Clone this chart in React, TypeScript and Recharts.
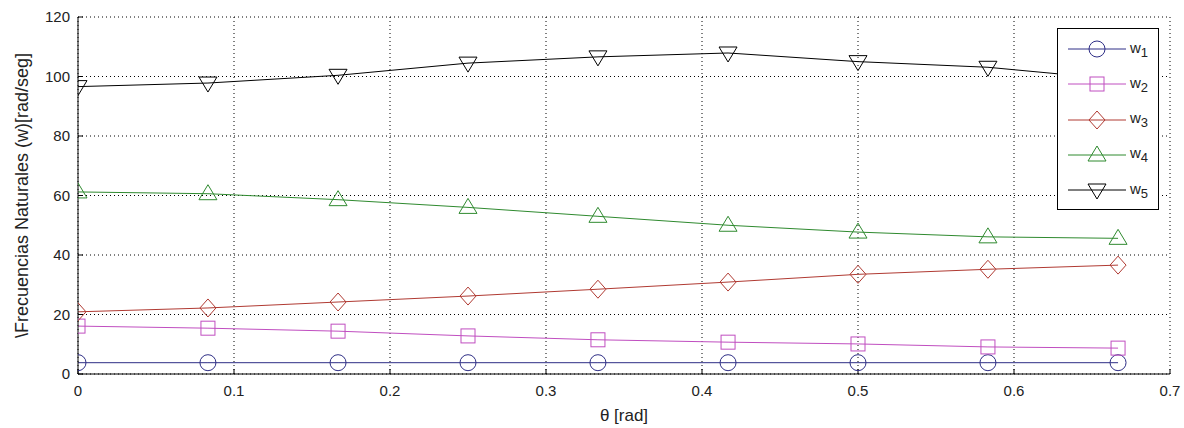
import React from "react";
import {
  LineChart,
  Line,
  XAxis,
  YAxis,
  CartesianGrid,
  Legend,
} from "recharts";

// theta [rad] and the five natural frequencies
const THETA = [0, 0.0833, 0.1667, 0.25, 0.3333, 0.4167, 0.5, 0.5833, 0.6667];
const W1 = [3.8, 3.8, 3.8, 3.8, 3.8, 3.8, 3.8, 3.8, 3.8];
const W2 = [16.1, 15.4, 14.4, 12.8, 11.5, 10.7, 10.1, 9.1, 8.7];
const W3 = [20.9, 22.2, 24.2, 26.2, 28.5, 30.9, 33.5, 35.2, 36.6];
const W4 = [61.2, 60.6, 58.6, 56.0, 53.0, 50.0, 47.7, 46.1, 45.6];
const W5 = [96.6, 97.8, 100.4, 104.5, 106.6, 107.9, 105.0, 103.1, 99.0];

const X_TICKS = [0, 0.1, 0.2, 0.3, 0.4, 0.5, 0.6, 0.7];
const Y_TICKS = [0, 20, 40, 60, 80, 100, 120];

const data = THETA.map((t, i) => ({
  theta: t,
  w1: W1[i],
  w2: W2[i],
  w3: W3[i],
  w4: W4[i],
  w5: W5[i],
}));

type Shape = "circle" | "square" | "diamond" | "triUp" | "triDown";

const SERIES: { key: string; color: string; shape: Shape }[] = [
  { key: "w1", color: "#2e2e86", shape: "circle" },
  { key: "w2", color: "#c04ec0", shape: "square" },
  { key: "w3", color: "#b03a32", shape: "diamond" },
  { key: "w4", color: "#2f8a2f", shape: "triUp" },
  { key: "w5", color: "#000000", shape: "triDown" },
];

const FONT = "'Liberation Sans', Arial, sans-serif";

const Marker = ({ cx, cy, shape, color }: { cx: number; cy: number; shape: Shape; color: string }) => {
  const p = { fill: "none", stroke: color, strokeWidth: 1 };
  switch (shape) {
    case "circle":
      return <circle cx={cx} cy={cy} r={8} {...p} />;
    case "square":
      return <rect x={cx - 7} y={cy - 7} width={14} height={14} {...p} />;
    case "diamond":
      return <polygon points={`${cx},${cy - 9} ${cx + 8},${cy} ${cx},${cy + 9} ${cx - 8},${cy}`} {...p} />;
    case "triUp":
      return <polygon points={`${cx},${cy - 9} ${cx + 9},${cy + 6} ${cx - 9},${cy + 6}`} {...p} />;
    default:
      return <polygon points={`${cx - 9},${cy - 6} ${cx + 9},${cy - 6} ${cx},${cy + 9}`} {...p} />;
  }
};

const makeDot = (shape: Shape, color: string) => (props: any) => {
  const { cx, cy, index } = props;
  if (cx == null || cy == null) return <g key={`d-${index}`} />;
  return (
    <g key={`d-${index}`}>
      <Marker cx={cx} cy={cy} shape={shape} color={color} />
    </g>
  );
};

const LegendBox = () => (
  <div
    style={{
      width: 100,
      height: 180,
      border: "1px solid #000",
      background: "#fff",
      position: "relative",
      fontFamily: FONT,
      fontSize: 15,
    }}
  >
    {SERIES.map((s, i) => (
      <div
        key={s.key}
        style={{ position: "absolute", left: 0, top: 20 + i * 35.3 - 11, height: 22, display: "flex", alignItems: "center" }}
      >
        <svg width={72} height={22} style={{ display: "block" }}>
          <line x1={10} y1={11} x2={68} y2={11} stroke={s.color} />
          <Marker cx={39} cy={11} shape={s.shape} color={s.color} />
        </svg>
        <span style={{ color: "#222", lineHeight: 1 }}>
          w<sub style={{ fontSize: 13 }}>{i + 1}</sub>
        </span>
      </div>
    ))}
  </div>
);

export default function App() {
  return (
    <div style={{ position: "absolute", left: 0, top: 0, width: 1184, height: 428, background: "#fff" }}>
      <style>{"body{margin:0}"}</style>
      <LineChart width={1184} height={428} data={data} margin={{ top: 17, right: 14, bottom: 0, left: 0 }}>
        <CartesianGrid stroke="#000" strokeDasharray="1 3" />
        <XAxis
          dataKey="theta"
          type="number"
          domain={[0, 0.7]}
          ticks={X_TICKS}
          allowDataOverflow
          height={54}
          stroke="#000"
          tickSize={-5}
          tickMargin={16}
          tick={{ fill: "#222", fontSize: 15, fontFamily: FONT }}
          tickFormatter={(v: number) => String(v)}
          label={(props: any) => {
            const vb = props.viewBox || { x: 78, width: 1092 };
            return (
              <text x={vb.x + vb.width / 2} y={421} textAnchor="middle" fill="#222" fontSize={17} fontFamily={FONT}>
                θ [rad]
              </text>
            );
          }}
        />
        <XAxis
          xAxisId="top"
          orientation="top"
          type="number"
          domain={[0, 0.7]}
          ticks={X_TICKS}
          allowDataOverflow
          height={0}
          stroke="#000"
          tickSize={-5}
          tickFormatter={() => ""}
        />
        <YAxis
          type="number"
          domain={[0, 120]}
          ticks={Y_TICKS}
          allowDataOverflow
          width={78}
          stroke="#000"
          tickSize={-5}
          tickMargin={13}
          tick={{ fill: "#222", fontSize: 15, fontFamily: FONT }}
          label={(props: any) => {
            const vb = props.viewBox || { y: 17, height: 357 };
            const cy = vb.y + vb.height / 2;
            return (
              <text
                x={22}
                y={cy}
                transform={`rotate(-90 22 ${cy})`}
                textAnchor="middle"
                dominantBaseline="central"
                fill="#222"
                fontSize={18}
                fontFamily={FONT}
              >
                \Frecuencias Naturales (w)[rad/seg]
              </text>
            );
          }}
        />
        <YAxis
          yAxisId="right"
          orientation="right"
          type="number"
          domain={[0, 120]}
          ticks={Y_TICKS}
          allowDataOverflow
          width={0}
          stroke="#000"
          tickSize={-5}
          tickFormatter={() => ""}
        />
        {SERIES.map((s) => (
          <Line
            key={s.key}
            dataKey={s.key}
            type="linear"
            stroke={s.color}
            strokeWidth={1}
            dot={makeDot(s.shape, s.color)}
            activeDot={false}
            isAnimationActive={false}
          />
        ))}
        <Legend
          layout="horizontal"
          verticalAlign="middle"
          align="center"
          wrapperStyle={{ left: 1057, top: 28, width: 102, height: 182 }}
          content={() => <LegendBox />}
        />
      </LineChart>
    </div>
  );
}
